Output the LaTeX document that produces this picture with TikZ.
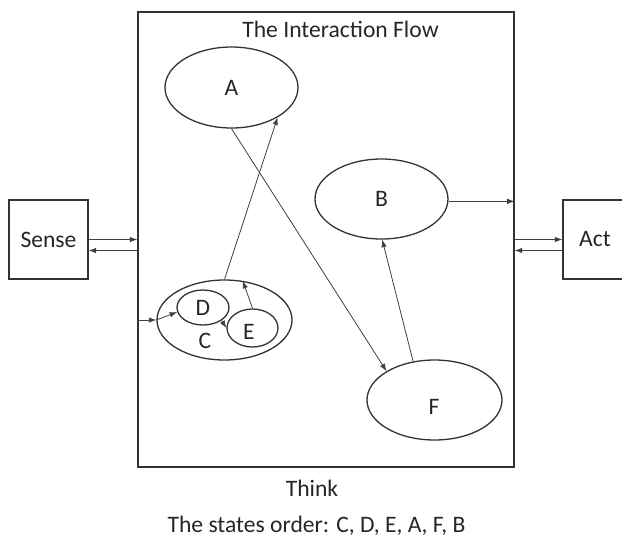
\documentclass[tikz,border=0pt]{standalone}
\usepackage{fontspec}
\setmainfont{Carlito}
\usetikzlibrary{shapes.geometric,arrows.meta,calc}
\begin{document}
\begin{tikzpicture}[x=1pt,y=-1pt,
  every node/.style={font=\fontsize{23.6}{28}\selectfont, text=black!85},
  frame/.style={draw=black!80, line width=1.4pt, rectangle, inner sep=0pt},
  state/.style={draw=black!80, line width=1.3pt, ellipse, inner sep=0pt},
  arr/.style={draw=black!75, line width=0.8pt, -{Latex[length=7.5pt,width=5.5pt]}},
  lbl/.style={anchor=base}]
\useasboundingbox (0,0) rectangle (622,539);

% outer boxes
\node[frame, minimum width=376pt, minimum height=455pt] (think) at (326,239.5) {};
\node[frame, minimum width=79pt, minimum height=79pt] (sense) at (48.5,239.5) {Sense};
\node[frame, minimum width=64pt, minimum height=79pt] (act) at (595,239.5) {Act};

% states
\node[state, minimum width=133pt, minimum height=81pt] (A) at (231.5,87.5) {A};
\node[state, minimum width=133pt, minimum height=80pt] (B) at (381.5,199) {B};
\node[state, minimum width=135pt, minimum height=80pt] (F) at (434.5,400) {};
\node[state, minimum width=135pt, minimum height=80pt] (C) at (224.5,320) {};
\node[state, minimum width=52pt, minimum height=35pt] (D) at (203,307.5) {D};
\node[state, minimum width=51pt, minimum height=38pt] (E) at (252.5,328) {};
\node (Ftext) at (434,407) {F};
\node (Ctext) at (205,341) {C};
\node (Etext) at (249,332) {E};

% texts
\node[lbl] (title) at (340.5,37) {The Interaction Flow};
\node[lbl] (thinktext) at (312,496) {Think};
\node[lbl] (order) at (316.5,532.5) {The states order: C, D, E, A, F, B};

% sense / act links
\draw[arr] (sense.east) -- (think.west |- sense.east);
\draw[arr] ($(think.west |- sense.east)+(0,11)$) -- ($(sense.east)+(0,11)$);
\draw[arr] (think.east |- act.west) -- (act.west);
\draw[arr] ($(act.west)+(0,11)$) -- ($(think.east |- act.west)+(0,11)$);

% flow between states
\draw[arr] (think.west |- C.west) -- (C.west);
\draw[arr] (C.west) -- (D.190);
\draw[arr] (D.-35) -- (E.west);
\draw[arr] (E.north) -- (C.65);
\draw[arr] (C.north) -- (A.-33);
\draw[arr] (A.south) -- (F.149);
\draw[arr] (F.119) -- (B.-89);
\draw[arr] (B.-2) -- (think.east |- B.-2);
\end{tikzpicture}
\end{document}
